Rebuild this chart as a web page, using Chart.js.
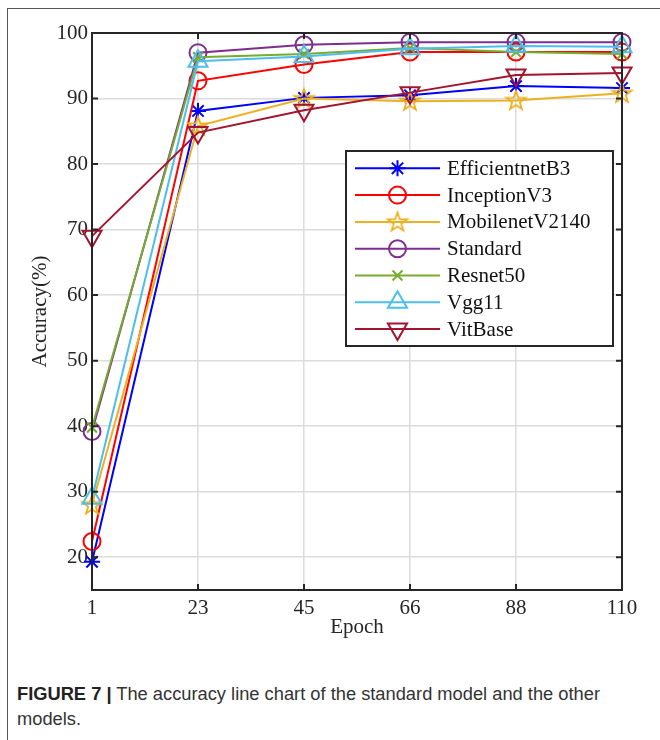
<!DOCTYPE html>
<html>
<head>
<meta charset="utf-8">
<script src="https://cdn.jsdelivr.net/npm/chart.js@4.4.1/dist/chart.umd.min.js"></script>
<style>
  html, body { margin: 0; padding: 0; background: #fff; }
  #wrap { position: relative; width: 660px; height: 740px; overflow: hidden; }
  #frame { position: absolute; left: 7px; top: 8px; width: 700px; height: 800px;
           border-left: 1.5px solid #555; border-top: 1.5px solid #555; }
  #chartBox { position: absolute; left: 0; top: 0; width: 660px; height: 660px; }
  #caption { position: absolute; left: 17px; top: 681px; width: 600px;
             font-family: "Liberation Sans", Arial, sans-serif;
             font-size: 18.3px; line-height: 25px; color: #333; }
  #caption b { color: #222; }
</style>
</head>
<body>
<div id="wrap">
  <div id="frame"></div>
  <div id="chartBox"><canvas id="accChart" width="660" height="660"></canvas></div>
  <div id="caption"><b>FIGURE 7 |</b> The accuracy line chart of the standard model and the other models.</div>
</div>
<script>
// data
const epochs = ["1", "23", "45", "66", "88", "110"];
const yTicks = [20, 30, 40, 50, 60, 70, 80, 90, 100];
const efficientnetB3 = [19.3, 88.1, 90.1, 90.5, 91.9, 91.6];
const inceptionV3 = [22.4, 92.7, 95.2, 97.1, 97.1, 97.1];
const mobilenetV2140 = [28.0, 85.8, 90.0, 89.6, 89.7, 90.8];
const standard = [39.2, 97.0, 98.2, 98.6, 98.6, 98.6];
const resnet50 = [39.8, 96.3, 96.8, 97.7, 97.1, 96.8];
const vgg11 = [29.0, 95.7, 96.4, 97.6, 98.0, 97.9];
const vitBase = [69.0, 84.8, 88.2, 90.9, 93.6, 93.9];

const serif = "'Liberation Serif', 'Times New Roman', serif";
const axisColor = "#262626";

// pentagram marker (matlab 'p')
function makePentagram(color) {
  const c = document.createElement("canvas");
  c.width = 24;
  c.height = 24;
  const g = c.getContext("2d");
  g.strokeStyle = color;
  g.lineWidth = 1.8;
  g.lineJoin = "miter";
  g.beginPath();
  for (let i = 0; i < 10; i++) {
    const r = i % 2 === 0 ? 10 : 4;
    const a = -Math.PI / 2 + (i * Math.PI) / 5;
    const px = 12 + r * Math.cos(a);
    const py = 12.5 + r * Math.sin(a);
    if (i === 0) g.moveTo(px, py);
    else g.lineTo(px, py);
  }
  g.closePath();
  g.stroke();
  return c;
}

function series(label, data, color, style, radius, rotation) {
  return {
    label,
    data,
    borderColor: color,
    backgroundColor: color,
    borderWidth: 2,
    pointStyle: style,
    pointRadius: radius,
    pointHoverRadius: radius,
    pointRotation: rotation || 0,
    pointBorderColor: color,
    pointBackgroundColor: "rgba(0,0,0,0)",
    pointBorderWidth: 2,
    tension: 0,
    fill: false,
    clip: false,
  };
}

const datasets = [
  series("EfficientnetB3", efficientnetB3, "#0000FF", "star", 8),
  series("InceptionV3", inceptionV3, "#FF0000", "circle", 8.5),
  series("MobilenetV2140", mobilenetV2140, "#EDB120", makePentagram("#EDB120"), 10),
  series("Standard", standard, "#7E2F8E", "circle", 8.5),
  series("Resnet50", resnet50, "#77AC30", "crossRot", 7),
  series("Vgg11", vgg11, "#4DBEEE", "triangle", 11),
  series("VitBase", vitBase, "#A2142F", "triangle", 11, 180),
];
// later series sit on top, as in the original
datasets.forEach((d, i) => { d.order = datasets.length - i; });

// box around the axes with inward ticks
const axesBox = {
  id: "axesBox",
  afterDatasetsDraw(chart) {
    const { ctx, chartArea: a, scales } = chart;
    ctx.save();
    ctx.strokeStyle = axisColor;
    ctx.lineWidth = 2;
    ctx.strokeRect(a.left, a.top, a.right - a.left, a.bottom - a.top);
    const len = 6;
    ctx.beginPath();
    epochs.forEach((e, i) => {
      const x = scales.x.getPixelForValue(i);
      ctx.moveTo(x, a.bottom); ctx.lineTo(x, a.bottom - len);
      ctx.moveTo(x, a.top); ctx.lineTo(x, a.top + len);
    });
    yTicks.forEach((v) => {
      const y = scales.y.getPixelForValue(v);
      ctx.moveTo(a.left, y); ctx.lineTo(a.left + len, y);
      ctx.moveTo(a.right, y); ctx.lineTo(a.right - len, y);
    });
    ctx.stroke();
    ctx.restore();
  },
};

// matlab style legend: line with marker, boxed
const boxLegend = {
  id: "boxLegend",
  afterDraw(chart) {
    const ctx = chart.ctx;
    const left = 346, top = 151, right = 613, bottom = 346;
    const rowH = 26.8, firstY = 168.3;
    ctx.save();
    ctx.fillStyle = "#fff";
    ctx.fillRect(left, top, right - left, bottom - top);
    ctx.strokeStyle = axisColor;
    ctx.lineWidth = 2;
    ctx.strokeRect(left, top, right - left, bottom - top);
    chart.data.datasets.forEach((ds, i) => {
      const y = firstY + i * rowH;
      ctx.strokeStyle = ds.borderColor;
      ctx.lineWidth = 2;
      ctx.beginPath();
      ctx.moveTo(355, y);
      ctx.lineTo(440, y);
      ctx.stroke();
      ctx.fillStyle = "rgba(0,0,0,0)";
      Chart.helpers.drawPoint(ctx, {
        pointStyle: ds.pointStyle,
        rotation: ds.pointRotation,
        radius: ds.pointRadius,
        borderWidth: 2,
      }, 397.5, y);
      ctx.fillStyle = "#111";
      ctx.font = "21px " + serif;
      ctx.textBaseline = "middle";
      ctx.textAlign = "left";
      ctx.fillText(ds.label, 447, y + 1);
    });
    ctx.restore();
  },
};

new Chart(document.getElementById("accChart"), {
  type: "line",
  data: { labels: epochs, datasets },
  options: {
    responsive: false,
    animation: false,
    events: [],
    layout: { padding: { left: 0, top: 33, right: 38, bottom: 0 } },
    plugins: {
      legend: { display: false },
      tooltip: { enabled: false },
    },
    scales: {
      x: {
        type: "category",
        offset: false,
        grid: { color: "#dcdcdc", lineWidth: 1.5, drawTicks: false },
        border: { display: false },
        ticks: {
          color: axisColor,
          padding: 6,
          maxRotation: 0,
          autoSkip: false,
          font: { family: serif, size: 21 },
        },
        title: {
          display: true,
          text: "Epoch",
          color: axisColor,
          font: { family: serif, size: 21 },
          padding: { top: 0, bottom: 20 },
        },
        afterFit(scale) { scale.height = 70; },
      },
      y: {
        min: 15,
        max: 100,
        grid: { color: "#dcdcdc", lineWidth: 1.5, drawTicks: false },
        border: { display: false },
        afterBuildTicks(scale) { scale.ticks = yTicks.map((v) => ({ value: v })); },
        ticks: {
          color: axisColor,
          padding: 4,
          font: { family: serif, size: 21 },
        },
        title: {
          display: true,
          text: "Accuracy(%)",
          color: axisColor,
          font: { family: serif, size: 21 },
          padding: { top: 28, bottom: 0 },
        },
        afterFit(scale) { scale.width = 92; },
      },
    },
  },
  plugins: [axesBox, boxLegend],
});
</script>
</body>
</html>
